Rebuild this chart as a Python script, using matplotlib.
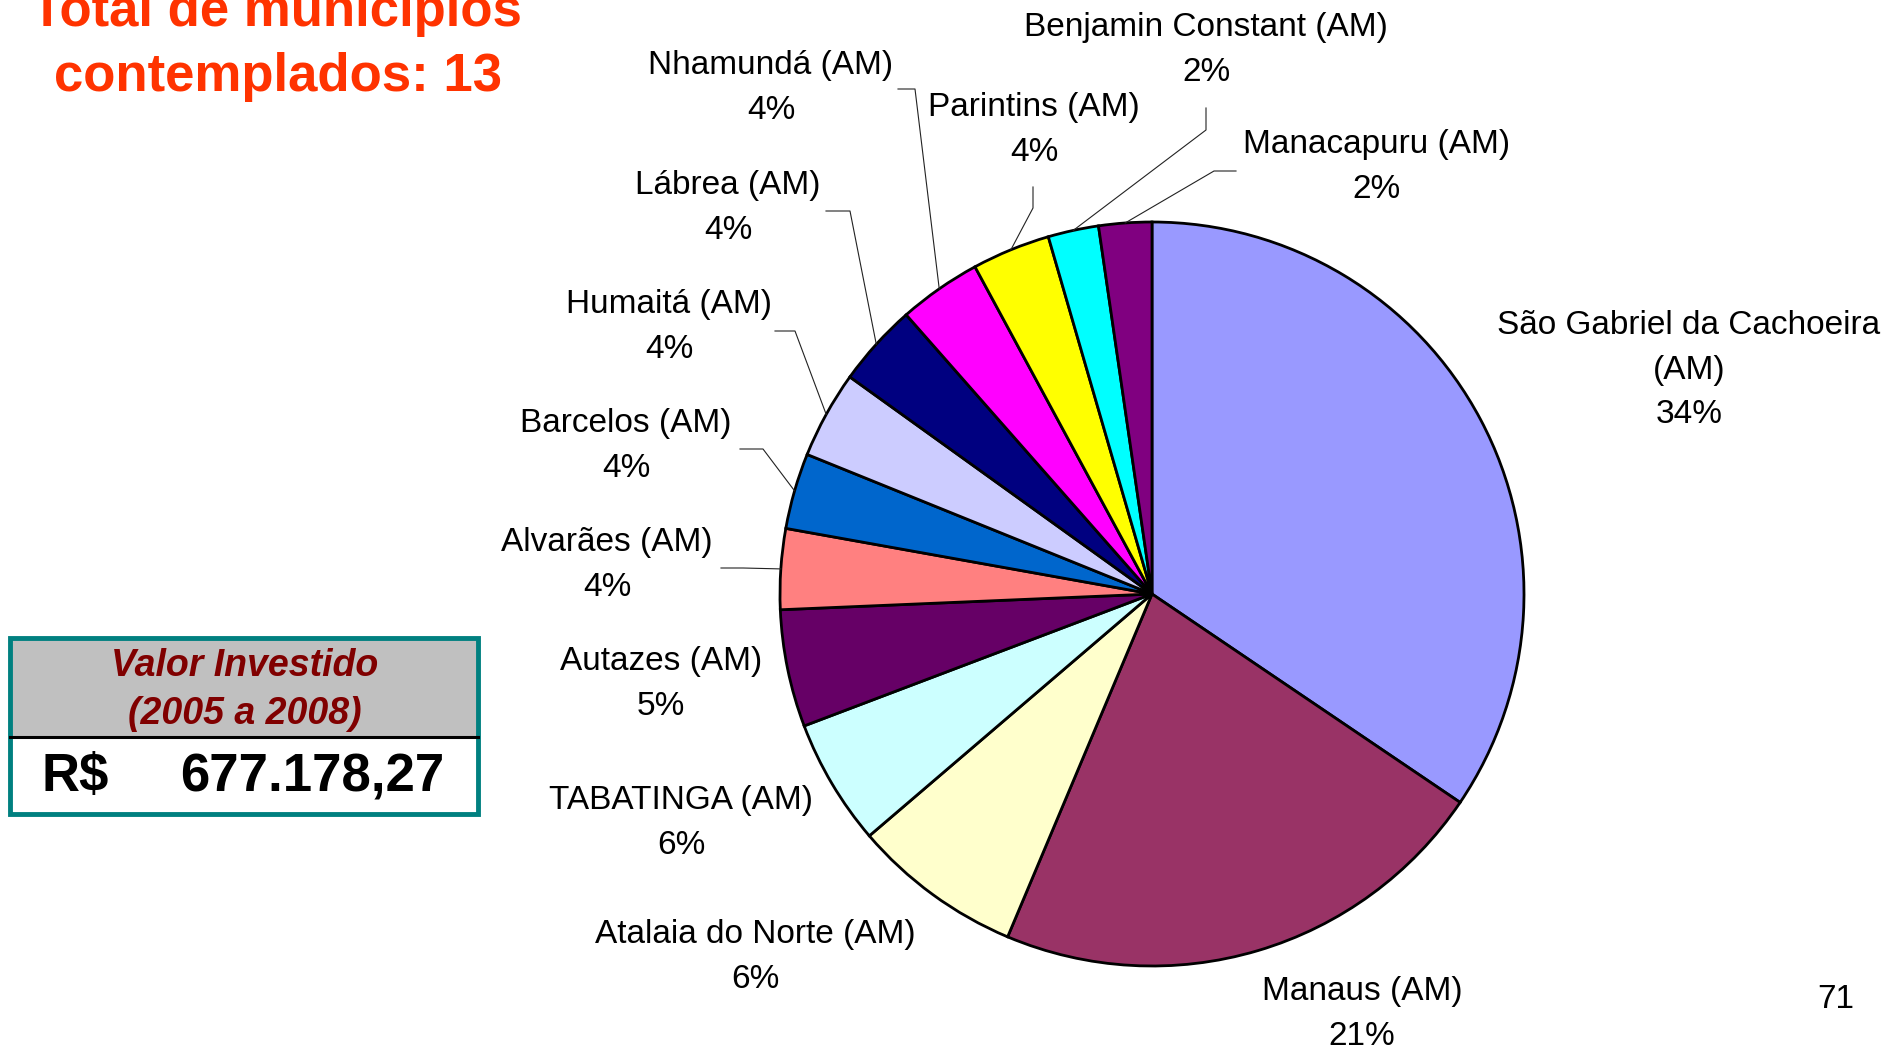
import numpy as np
import matplotlib
matplotlib.use('Agg')
import matplotlib.pyplot as plt
from matplotlib.patches import Rectangle

plt.rcParams['font.family'] = ['Liberation Sans', 'DejaVu Sans']

# dados (fatias, sentido horario a partir do topo)
municipios = ['São Gabriel da Cachoeira\n(AM)', 'Manaus (AM)', 'Atalaia do Norte (AM)',
              'TABATINGA (AM)', 'Autazes (AM)', 'Alvarães (AM)', 'Barcelos (AM)',
              'Humaitá (AM)', 'Lábrea (AM)', 'Nhamundá (AM)', 'Parintins (AM)',
              'Benjamin Constant (AM)', 'Manacapuru (AM)']
valores = [34.5, 21.9, 7.4, 5.5, 5.1, 3.5, 3.3, 3.8, 3.6, 3.6, 3.4, 2.2, 2.3]
percentuais = [34, 21, 6, 6, 5, 4, 4, 4, 4, 4, 4, 2, 2]
cores = ['#9999FF', '#993366', '#FFFFCC', '#CCFFFF', '#660066', '#FF8080', '#0066CC',
         '#CCCCFF', '#000080', '#FF00FF', '#FFFF00', '#00FFFF', '#800080']

titulo = ['Total de municípios', 'contemplados: 13']
valor_investido = '677.178,27'
periodo = 'Valor Investido\n(2005 a 2008)'
pagina = '71'

W, H = 1888, 1050
fig = plt.figure(figsize=(W / 100, H / 100), dpi=100)
ax = fig.add_axes([0, 0, 1, 1])

cx, cy, r = 1152, H - 594, 372
wedges, _ = ax.pie(valores, colors=cores, startangle=90, counterclock=False,
                   center=(cx, cy), radius=r, frame=True,
                   wedgeprops=dict(edgecolor='black', linewidth=2.0))
ax.set_xlim(0, W)
ax.set_ylim(0, H)
ax.axis('off')

# posicao dos rotulos (pixels, y para baixo) e pontos das linhas de chamada
pos_rotulos = [(1689, 370), (1362, 1014), (755, 957), (681, 823), (661, 684),
               (607, 565), (626, 446), (669, 327), (728, 208), (771, 88),
               (1034, 130), (1206, 50), (1377, 167)]
linhas = [None, None, None, None, None,
          [(721, 568), (743, 568)],
          [(740, 449), (763, 449)],
          [(775, 331), (795, 331)],
          [(826, 211), (850, 211)],
          [(898, 89), (915, 89)],
          [(1033, 187), (1033, 208)],
          [(1206, 108), (1206, 130)],
          [(1236, 171), (1214, 171)]]

for i in range(len(municipios)):
    x, y = pos_rotulos[i]
    ax.text(x, H - y, municipios[i] + '\n' + str(percentuais[i]) + '%',
            ha='center', va='center', ma='center', fontsize=24, linespacing=1.55)
    if linhas[i] is not None:
        w = wedges[i]
        ang = np.radians((w.theta1 + w.theta2) / 2)
        xs = [p[0] for p in linhas[i]] + [cx + r * np.cos(ang)]
        ys = [H - p[1] for p in linhas[i]] + [cy + r * np.sin(ang)]
        ax.plot(xs, ys, color='#222222', lw=0.8)

# titulo
ax.text(276, H - 26, titulo[0], ha='center', va='baseline', fontsize=38,
        fontweight='bold', color='#FF3300')
ax.text(278, H - 91, titulo[1], ha='center', va='baseline', fontsize=38,
        fontweight='bold', color='#FF3300')

# caixa do valor investido
ax.add_patch(Rectangle((10, H - 737), 468, 99, facecolor='#C0C0C0', edgecolor='none'))
ax.add_patch(Rectangle((10, H - 814), 468, 77, facecolor='white', edgecolor='none'))
ax.plot([10, 478], [H - 737, H - 737], color='black', lw=2.2)
ax.add_patch(Rectangle((10, H - 814), 468, 176, facecolor='none', edgecolor='#008080', lw=3.5))
ax.text(245, H - 690, periodo, ha='center', va='center', ma='center', fontsize=27,
        fontweight='bold', fontstyle='italic', color='#800000', linespacing=1.4)
ax.text(75, H - 777, 'R$', ha='center', va='center', fontsize=38, fontweight='bold')
ax.text(312, H - 777, valor_investido, ha='center', va='center', fontsize=38, fontweight='bold')

ax.text(1836, H - 1000, pagina, ha='center', va='center', fontsize=24)

fig.savefig('out.png', dpi=100)
